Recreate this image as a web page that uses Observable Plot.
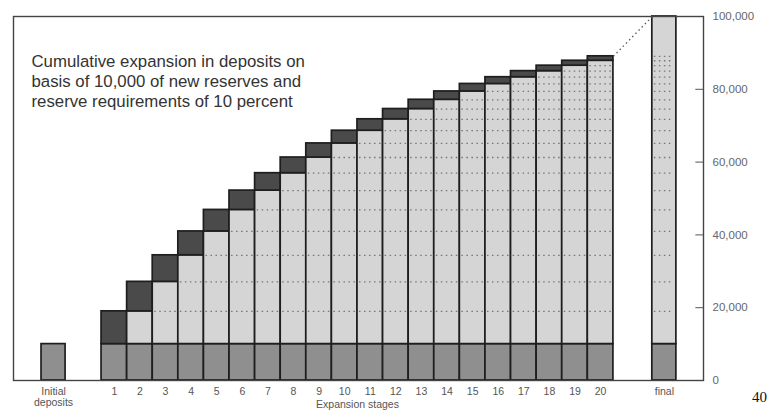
<!DOCTYPE html>
<html>
<head>
<meta charset="utf-8">
<script src="https://cdn.jsdelivr.net/npm/d3@7"></script>
<script src="https://cdn.jsdelivr.net/npm/@observablehq/plot@0.6"></script>
<style>
  html, body { margin: 0; padding: 0; background: #fff; }
  #wrap { position: relative; width: 771px; height: 410px; }
  #page { position: absolute; left: 752px; top: 389px; font-family: "Liberation Serif", "DejaVu Serif", serif; font-size: 15px; color: #111; }
</style>
</head>
<body>
<div id="wrap"><div id="chart"></div><div id="page">40</div></div>
<script>
// ---- data ----
const titleLines = ["Cumulative expansion in deposits on", "basis of 10,000 of new reserves and", "reserve requirements of 10 percent"];
const initialLabel = "Initial\ndeposits";
const finalLabel = "final";
const stageLabels = ["1","2","3","4","5","6","7","8","9","10","11","12","13","14","15","16","17","18","19","20"];
const initialDeposit = 10000;
const stageTotals = [19000, 27100, 34390, 40950, 46860, 52170, 56950, 61260, 65130, 68620, 71760, 74580, 77120, 79410, 81470, 83320, 84990, 86490, 87840, 89060];
const finalTotal = 100000;
const yTicks = [0, 20000, 40000, 60000, 80000, 100000];
const xTitle = "Expansion stages";

// ---- layout (scale units) ----
const xMin = -3.44, xMax = 23.52;
const initialPos = -1.875, finalPos = 21.99;
const sideHalf = 0.47, stageHalf = 0.5;
const stagePos = i => i + 0.5;

const colMid = "#8f8f8f", colLight = "#d5d5d5", colDark = "#4a4a4a", colEdge = "#1e1e1e";

// segments
const segs = [];
segs.push({x1: initialPos - sideHalf, x2: initialPos + sideHalf, y1: 0, y2: initialDeposit, c: colMid});
stageTotals.forEach((t, i) => {
  const prev = i === 0 ? initialDeposit : stageTotals[i - 1];
  const x1 = stagePos(i) - stageHalf, x2 = stagePos(i) + stageHalf;
  segs.push({x1, x2, y1: 0, y2: initialDeposit, c: colMid});
  if (prev > initialDeposit) segs.push({x1, x2, y1: initialDeposit, y2: prev, c: colLight});
  segs.push({x1, x2, y1: prev, y2: t, c: colDark});
});
segs.push({x1: finalPos - sideHalf, x2: finalPos + sideHalf, y1: 0, y2: initialDeposit, c: colMid});
segs.push({x1: finalPos - sideHalf, x2: finalPos + sideHalf, y1: initialDeposit, y2: finalTotal, c: colLight});

// dotted level lines inside the light segments
const dots = [];
stageTotals.forEach((t, i) => {
  for (let j = 0; j < i - 1; j++) {
    dots.push({x1: stagePos(i) - stageHalf + 0.08, x2: stagePos(i) + stageHalf - 0.08, y: stageTotals[j]});
  }
});
stageTotals.forEach(t => dots.push({x1: finalPos - sideHalf + 0.08, x2: finalPos + sideHalf - 0.08, y: t}));

const tickPositions = [initialPos, ...stageLabels.map((d, i) => stagePos(i)), finalPos];
const tickNames = [initialLabel, ...stageLabels, finalLabel];
const nameAt = new Map(tickPositions.map((p, i) => [p, tickNames[i]]));

const chart = Plot.plot({
  width: 771,
  height: 410,
  marginLeft: 13,
  marginRight: 68,
  marginTop: 16,
  marginBottom: 30,
  style: {fontFamily: "'Liberation Sans', Arial, sans-serif", background: "#fff"},
  x: {domain: [xMin, xMax], axis: null},
  y: {domain: [0, 100000], axis: null},
  marks: [
    Plot.rect(segs, {x1: "x1", x2: "x2", y1: "y1", y2: "y2", fill: "c", stroke: colEdge, strokeWidth: 1.7}),
    Plot.ruleY(dots, {x1: "x1", x2: "x2", y: "y", stroke: "#777", strokeWidth: 1.3, strokeDasharray: "1.5,3.5"}),
    Plot.link([0], {
      x1: () => stagePos(stageTotals.length - 1) + stageHalf,
      y1: () => stageTotals[stageTotals.length - 1],
      x2: () => finalPos - sideHalf,
      y2: () => finalTotal,
      stroke: "#555", strokeWidth: 1.3, strokeDasharray: "1.5,3"
    }),
    Plot.frame({stroke: "#444", strokeWidth: 1.4}),
    Plot.ruleY(yTicks.slice(1, -1), {x1: xMax - 0.3, x2: xMax, stroke: "#555", strokeWidth: 1}),
    Plot.axisY({anchor: "right", ticks: yTicks, tickFormat: d3.format(","), tickSize: 0, tickPadding: 9, fontSize: 11.5, color: "#666", label: null}),
    Plot.axisX({anchor: "bottom", ticks: tickPositions, tickFormat: d => nameAt.get(d), tickSize: 0, tickPadding: 6, fontSize: 10.5, color: "#555", label: null, lineHeight: 1.1}),
    Plot.text([xTitle], {x: () => 10, frameAnchor: "bottom", dy: 24, text: d => d, fontSize: 10.5, fill: "#555", lineAnchor: "middle"}),
    Plot.text([titleLines.join("\n")], {frameAnchor: "top-left", dx: 18, dy: 36, text: d => d, fontSize: 16.8, fill: "#333", textAnchor: "start", lineAnchor: "top", lineHeight: 1.19})
  ]
});
document.getElementById("chart").appendChild(chart);
</script>
</body>
</html>
